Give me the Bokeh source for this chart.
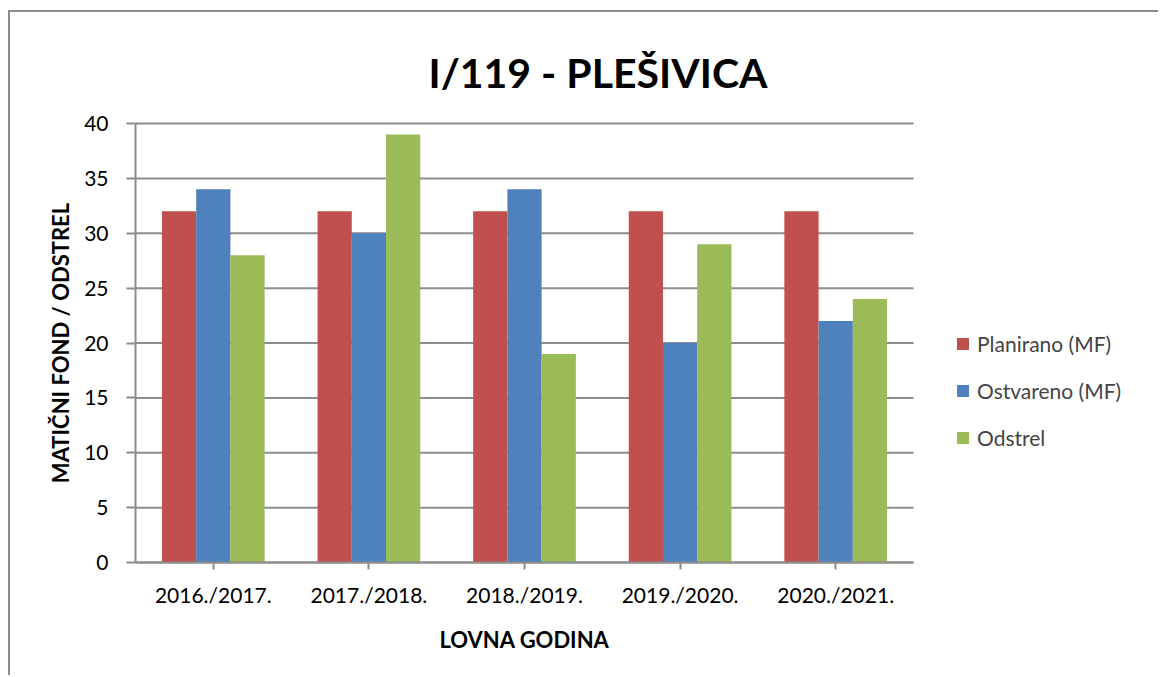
import math
from bokeh.plotting import figure
from bokeh.models import Legend, LegendItem, Range1d, FixedTicker, Label, ColumnDataSource
from bokeh.transform import dodge
from bokeh.embed import file_html
from bokeh.resources import INLINE

title = "I/119 - PLEŠIVICA"
years = ["2016./2017.", "2017./2018.", "2018./2019.", "2019./2020.", "2020./2021."]
planirano = [32, 32, 32, 32, 32]
ostvareno = [34, 30, 34, 20, 22]
odstrel = [28, 39, 19, 29, 24]
series_names = ["Planirano (MF)", "Ostvareno (MF)", "Odstrel"]
colors = ["#C0504D", "#4F81BD", "#9BBB59"]
y_ticks = [0, 5, 10, 15, 20, 25, 30, 35, 40]
y_label = "MATIČNI FOND / ODSTREL"
x_label = "LOVNA GODINA"

FONT = "Lato"
GRAY = "#8c8c8c"

# layout (pixels); the frame covers the whole canvas, axes sit at fixed locations
W, H = 1150, 665
LEFT_PX, BOTTOM_PX = 125, 115   # distance from canvas edge to the value/category axes
cat_px = 155.6                  # width of one category in pixels
val_px = 10.975                 # pixels per unit on the value axis

n = len(years)
y_max = max(y_ticks)
x_start = -LEFT_PX / cat_px
x_end = (W - LEFT_PX) / cat_px
y_start = -BOTTOM_PX / val_px
y_end = (H - BOTTOM_PX) / val_px

p = figure(x_range=Range1d(x_start, x_end), y_range=Range1d(y_start, y_end),
           width=W, height=H, output_backend="svg", toolbar_location=None,
           min_border_left=0, min_border_right=0, min_border_top=0, min_border_bottom=0)
p.styles = {"border-left": "2px solid " + GRAY, "border-top": "2px solid " + GRAY,
            "margin-top": "10px", "margin-left": "8px"}
p.outline_line_color = None
p.xgrid.grid_line_color = None
p.ygrid.grid_line_color = None

# horizontal grid lines over the category area
p.segment(x0=[0] * len(y_ticks), x1=[n] * len(y_ticks), y0=y_ticks, y1=y_ticks,
          line_color=GRAY, line_width=2)

xs = [i + 0.5 for i in range(n)]
src = ColumnDataSource(dict(x=xs, pl=planirano, os=ostvareno, od=odstrel))
bw = 0.22
r1 = p.vbar(x=dodge("x", -bw), top="pl", width=bw, source=src, color=colors[0], line_color=None)
r2 = p.vbar(x=dodge("x", 0), top="os", width=bw, source=src, color=colors[1], line_color=None)
r3 = p.vbar(x=dodge("x", bw), top="od", width=bw, source=src, color=colors[2], line_color=None)

p.yaxis.ticker = FixedTicker(ticks=y_ticks)
p.yaxis.bounds = (0, y_max)
p.yaxis.fixed_location = 0
p.xaxis.ticker = FixedTicker(ticks=xs)
p.xaxis.major_label_overrides = {x: lab for x, lab in zip(xs, years)}
p.xaxis.bounds = (0, n)
p.xaxis.fixed_location = 0
for ax in (p.xaxis, p.yaxis):
    ax.minor_tick_line_color = None
    ax.major_tick_in = 0
    ax.axis_line_color = GRAY
    ax.axis_line_width = 2
    ax.major_tick_line_color = GRAY
    ax.major_tick_line_width = 2
    ax.major_label_text_font = FONT
    ax.major_label_text_font_size = "21px"
    ax.major_label_text_color = "black"
p.yaxis.major_tick_out = 9
p.xaxis.major_tick_out = 7
p.yaxis.major_label_standoff = 18
p.xaxis.major_label_standoff = 12

# axis titles
p.add_layout(Label(x=(60 - 135) / cat_px, y=y_max / 2, text=y_label, angle=math.pi / 2,
                   text_font=FONT, text_font_style="bold", text_font_size="22px",
                   text_align="center", text_baseline="middle", text_color="black"))
p.add_layout(Label(x=n / 2, y=(562 - 639) / val_px, text=x_label,
                   text_font=FONT, text_font_style="bold", text_font_size="22px",
                   text_align="center", text_baseline="middle", text_color="black"))

legend = Legend(items=[LegendItem(label=series_names[0], renderers=[r1]),
                       LegendItem(label=series_names[1], renderers=[r2]),
                       LegendItem(label=series_names[2], renderers=[r3])],
                location=(945, 227), border_line_color=None, background_fill_alpha=0,
                padding=0, margin=0, spacing=22, glyph_width=15, glyph_height=15,
                label_text_font=FONT, label_text_font_size="21px", label_standoff=7)
p.add_layout(legend, "center")

t = Label(x=(597.5 - 135) / cat_px, y=(562 - 72) / val_px, text=title,
          text_font=FONT, text_font_style="bold", text_font_size="41px",
          text_align="center", text_baseline="alphabetic", text_color="black")
p.add_layout(t)

open("out.html", "w").write(file_html(p, INLINE))
